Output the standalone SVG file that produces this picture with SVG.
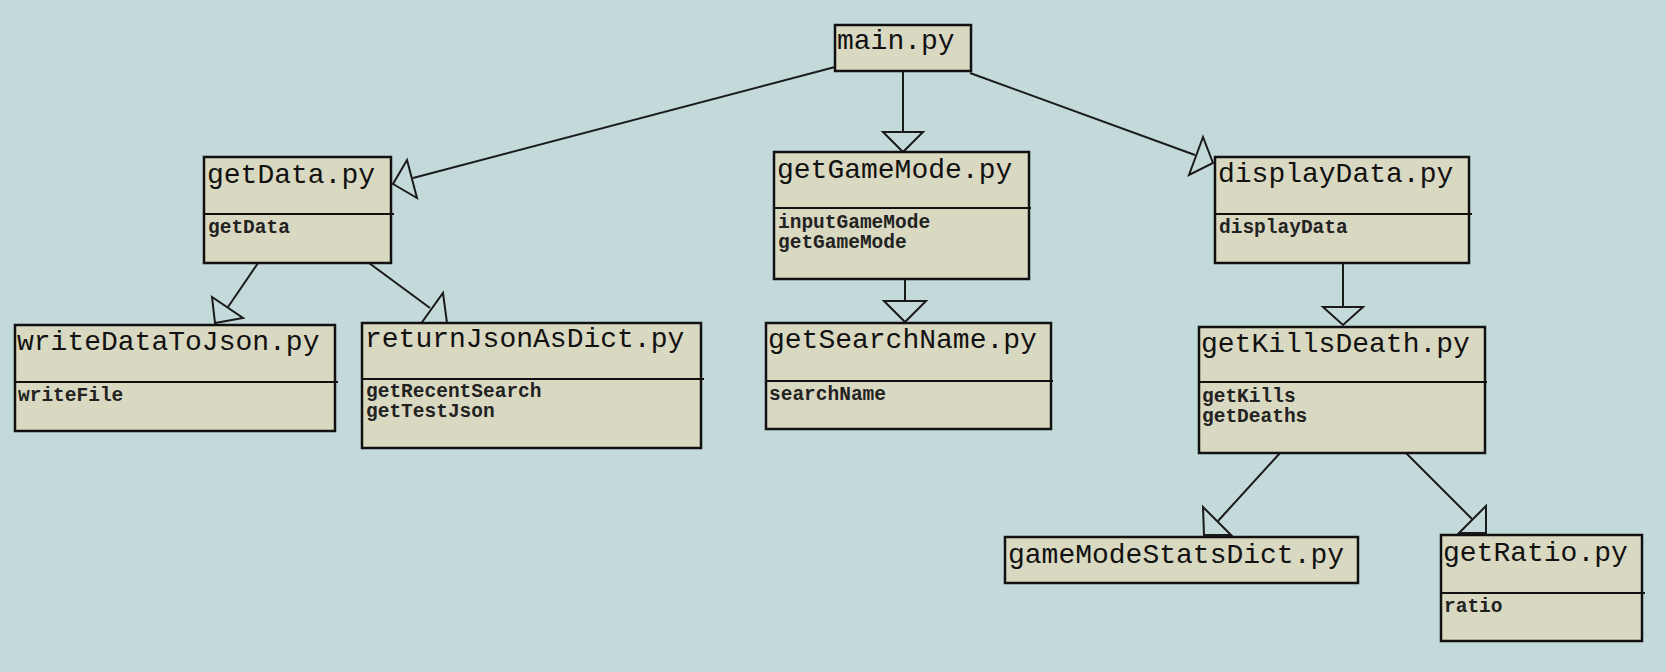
<svg xmlns="http://www.w3.org/2000/svg" width="1666" height="672" viewBox="0 0 1666 672">
<style>
.box{fill:#d9d8c1;stroke:#111;stroke-width:2.5}
.div{stroke:#111;stroke-width:2}
.t{font-family:"Liberation Mono","Courier New",monospace;font-size:28px;fill:#111}
.m{font-family:"Liberation Mono","Courier New",monospace;font-size:19.5px;font-weight:bold;fill:#222}
.ln{stroke:#1a1a1a;stroke-width:2;fill:none}
.hd{fill:none;stroke:#1a1a1a;stroke-width:2;stroke-linejoin:miter}
</style>
<rect width="1666" height="672" fill="#c4d9d9"/>
<g id="connectors">
<line class="ln" x1="835" y1="67" x2="413" y2="178"/>
<polygon class="hd" points="407,160 417,198 393,184"/>
<line class="ln" x1="903" y1="71" x2="903" y2="132"/>
<polygon class="hd" points="883,132 923,132 903,152"/>
<line class="ln" x1="970" y1="73" x2="1195" y2="155"/>
<polygon class="hd" points="1203,137 1189,175 1213,163"/>
<line class="ln" x1="258" y1="263" x2="228" y2="307"/>
<polygon class="hd" points="212,297 215,323 243,318"/>
<line class="ln" x1="369" y1="263" x2="430" y2="308"/>
<polygon class="hd" points="443,293 447,323 420,325"/>
<line class="ln" x1="905" y1="279" x2="905" y2="301"/>
<polygon class="hd" points="884,301 926,301 905,322"/>
<line class="ln" x1="1343" y1="263" x2="1343" y2="307"/>
<polygon class="hd" points="1323,307 1363,307 1343,325"/>
<line class="ln" x1="1280" y1="453" x2="1218" y2="521"/>
<polygon class="hd" points="1203,507 1204,535 1231,535"/>
<line class="ln" x1="1406" y1="453" x2="1472" y2="519"/>
<polygon class="hd" points="1486,506 1486,533 1459,533"/>
</g>
<g id="main">
<rect class="box" x="835" y="25" width="136" height="46"/>
<text class="t" x="837" y="49">main.py</text>
</g>
<g id="getData">
<rect class="box" x="204" y="157" width="187" height="106"/>
<line class="div" x1="204" y1="214" x2="394" y2="214"/>
<text class="t" x="207" y="183">getData.py</text>
<text class="m" x="208" y="233">getData</text>
</g>
<g id="getGameMode">
<rect class="box" x="774" y="152" width="255" height="127"/>
<line class="div" x1="774" y1="208" x2="1031" y2="208"/>
<text class="t" x="777" y="178">getGameMode.py</text>
<text class="m" x="778" y="228">inputGameMode</text>
<text class="m" x="778" y="248">getGameMode</text>
</g>
<g id="displayData">
<rect class="box" x="1215" y="157" width="254" height="106"/>
<line class="div" x1="1215" y1="214" x2="1472" y2="214"/>
<text class="t" x="1218" y="182">displayData.py</text>
<text class="m" x="1219" y="233">displayData</text>
</g>
<g id="writeDataToJson">
<rect class="box" x="15" y="325" width="320" height="106"/>
<line class="div" x1="15" y1="382" x2="338" y2="382"/>
<text class="t" x="17" y="350">writeDataToJson.py</text>
<text class="m" x="18" y="401">writeFile</text>
</g>
<g id="returnJsonAsDict">
<rect class="box" x="362" y="323" width="339" height="125"/>
<line class="div" x1="362" y1="379" x2="704" y2="379"/>
<text class="t" x="365" y="347">returnJsonAsDict.py</text>
<text class="m" x="366" y="397">getRecentSearch</text>
<text class="m" x="366" y="417">getTestJson</text>
</g>
<g id="getSearchName">
<rect class="box" x="766" y="323" width="285" height="106"/>
<line class="div" x1="766" y1="381" x2="1053" y2="381"/>
<text class="t" x="768" y="348">getSearchName.py</text>
<text class="m" x="769" y="400">searchName</text>
</g>
<g id="getKillsDeath">
<rect class="box" x="1199" y="327" width="286" height="126"/>
<line class="div" x1="1199" y1="382" x2="1487" y2="382"/>
<text class="t" x="1201" y="352">getKillsDeath.py</text>
<text class="m" x="1202" y="402">getKills</text>
<text class="m" x="1202" y="422">getDeaths</text>
</g>
<g id="gameModeStatsDict">
<rect class="box" x="1005" y="537" width="353" height="46"/>
<text class="t" x="1008" y="563">gameModeStatsDict.py</text>
</g>
<g id="getRatio">
<rect class="box" x="1441" y="535" width="201" height="106"/>
<line class="div" x1="1441" y1="593" x2="1645" y2="593"/>
<text class="t" x="1443" y="561">getRatio.py</text>
<text class="m" x="1444" y="612">ratio</text>
</g>
</svg>
